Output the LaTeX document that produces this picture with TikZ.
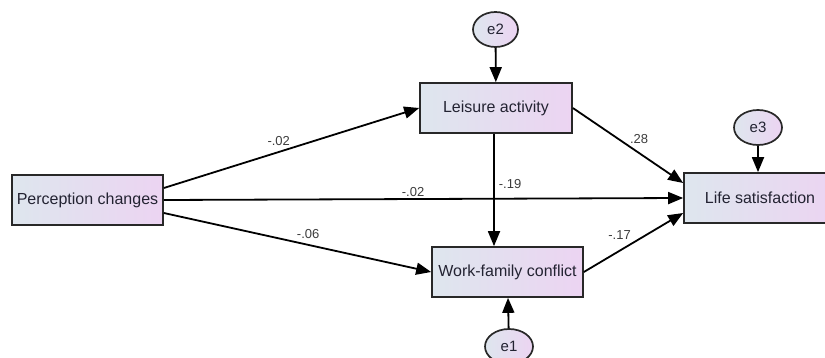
\documentclass[tikz,border=0pt]{standalone}
\usepackage{fontspec}
\setmainfont{Liberation Sans}
\usepackage{tikz}
\usetikzlibrary{arrows.meta, shapes.geometric}
\definecolor{boxleft}{RGB}{222, 230, 238}
\definecolor{boxright}{RGB}{236, 212, 242}
\definecolor{boxline}{RGB}{40, 40, 40}
\definecolor{boxtext}{RGB}{35, 35, 50}
\definecolor{coeftext}{RGB}{60, 60, 60}

\tikzset{
  varbox/.style={draw=boxline, line width=1.7pt, left color=boxleft, right color=boxright,
                 text=boxtext, font=\fontsize{16}{18}\selectfont,
                 minimum width=151pt, minimum height=50pt, inner sep=0pt},
  errnode/.style={ellipse, draw=boxline, line width=1.7pt, left color=boxleft, right color=boxright,
                  text=boxtext, font=\fontsize{15}{17}\selectfont,
                  minimum width=46pt, minimum height=35pt, inner sep=0pt},
  link/.style={line width=1.8pt, color=black, -{Triangle[length=15pt, width=12pt]}},
  coef/.style={font=\fontsize{13}{15}\selectfont, text=coeftext, inner sep=2pt}
}

\begin{document}
\begin{tikzpicture}[x=1pt, y=-1pt]
  \useasboundingbox (0, 0) rectangle (825, 358);

  \node[varbox] (pc) at (87.5, 200) { Perception changes };
  \node[varbox, minimum width=152pt] (la) at (496, 108) { Leisure activity };
  \node[varbox] (wfc) at (507.5, 272) { Work-family conflict };
  \node[varbox, minimum width=152pt] (ls) at (760, 198) { Life satisfaction };

  \node[errnode, minimum width=45pt] (e2) at (495.5, 29.5) { e2 };
  \node[errnode, minimum width=48pt] (e1) at (509, 346.5) { e1 };
  \node[errnode, minimum width=48pt] (e3) at (758, 127.5) { e3 };

  %

  \draw[link] (e2) -- (la);
  \draw[link] (e1) -- (wfc);
  \draw[link] (e3) -- (e3 |- ls.north);

  \draw[link] ([yshift=12pt]pc.east) -- (la.west)
    node[coef, pos=0.45, above=3pt] (c1) { -.02 };
  \draw[link] (pc.east) -- (ls.west)
    node[coef, pos=0.48, above] (c2) { -.02 };
  \draw[link] ([yshift=-13pt]pc.east) -- (wfc.west)
    node[coef, pos=0.54, above=3pt] (c3) { -.06 };
  \draw[link] ([xshift=-2pt]la.south) -- ([xshift=-2pt]la.south |- wfc.north)
    node[coef, pos=0.45, right=2pt] (c4) { -.19 };
  \draw[link] (la.east) -- ([yshift=15pt]ls.west)
    node[coef, pos=0.6, above=6pt] (c5) { .28 };
  \draw[link] (wfc.east) -- ([yshift=-15pt]ls.west)
    node[coef, pos=0.36, above=8pt] (c6) { -.17 };

\end{tikzpicture}
\end{document}
